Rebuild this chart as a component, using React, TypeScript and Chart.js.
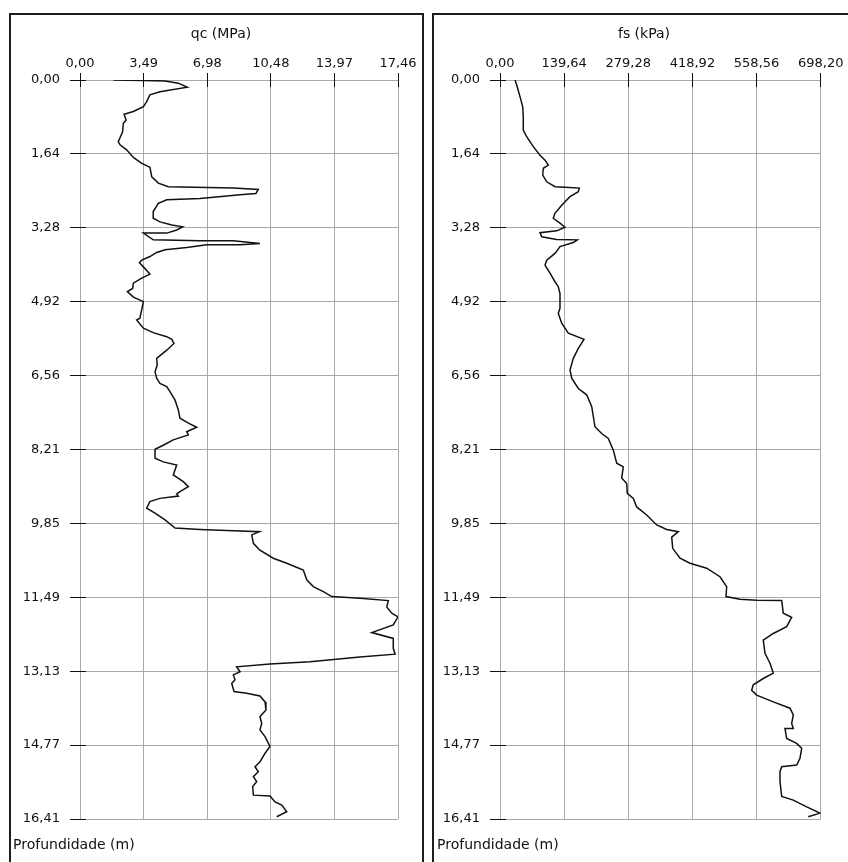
import React, { useEffect, useRef } from 'react';
import { Chart, registerables } from 'chart.js';

Chart.register(...registerables);

const FONT = "'DejaVu Sans', sans-serif";

// Depth axis (m)
const depthTicks = [0, 1.641, 3.282, 4.923, 6.564, 8.205, 9.846, 11.487, 13.128, 14.769, 16.41];
const depthTickLabels = ['0,00', '1,64', '3,28', '4,92', '6,56', '8,21', '9,85', '11,49', '13,13', '14,77', '16,41'];

// qc axis (MPa)
const qcTicks = [0, 3.492, 6.984, 10.476, 13.968, 17.46];
const qcTickLabels = ['0,00', '3,49', '6,98', '10,48', '13,97', '17,46'];

// fs axis (kPa)
const fsTicks = [0, 139.64, 279.28, 418.92, 558.56, 698.2];
const fsTickLabels = ['0,00', '139,64', '279,28', '418,92', '558,56', '698,20'];

// qc profile
const qcDepth = [
  0.00, 0.01, 0.02, 0.07, 0.16, 0.26, 0.33, 0.48, 0.59, 0.70,
  0.76, 0.89, 0.96, 1.15, 1.37, 1.44, 1.55, 1.72, 1.85, 1.94,
  2.15, 2.29, 2.37, 2.40, 2.43, 2.52, 2.55, 2.63, 2.66, 2.74,
  2.92, 3.07, 3.15, 3.22, 3.26, 3.33, 3.40, 3.40, 3.55, 3.57,
  3.57, 3.63, 3.66, 3.66, 3.72, 3.77, 3.83, 3.92, 4.00, 4.06,
  4.15, 4.31, 4.40, 4.51, 4.63, 4.70, 4.82, 4.92, 5.29, 5.33,
  5.51, 5.61, 5.70, 5.76, 5.85, 6.00, 6.18, 6.33, 6.48, 6.62,
  6.74, 6.81, 6.92, 7.11, 7.33, 7.51, 7.62, 7.71, 7.81, 7.88,
  7.99, 8.11, 8.20, 8.40, 8.48, 8.55, 8.77, 8.92, 9.03, 9.14,
  9.19, 9.24, 9.29, 9.36, 9.51, 9.62, 9.77, 9.95, 9.98, 10.01,
  10.03, 10.10, 10.29, 10.44, 10.62, 10.73, 10.88, 11.10, 11.25, 11.36,
  11.47, 11.51, 11.56, 11.70, 11.84, 11.92, 12.10, 12.27, 12.40, 12.62,
  12.75, 12.81, 12.92, 12.97, 13.03, 13.14, 13.21, 13.32, 13.40, 13.58,
  13.62, 13.68, 13.81, 13.99, 14.14, 14.29, 14.43, 14.58, 14.80, 14.95,
  15.14, 15.25, 15.36, 15.47, 15.58, 15.69, 15.88, 15.90, 16.03, 16.10,
  16.25, 16.36,
];
const qcValues = [
  1.83, 3.48, 4.67, 5.40, 5.89, 4.39, 3.84, 3.66, 3.48, 2.93,
  2.42, 2.53, 2.38, 2.34, 2.10, 2.20, 2.56, 2.93, 3.39, 3.84,
  3.94, 4.30, 4.85, 8.42, 9.79, 9.66, 8.79, 6.59, 4.76, 4.30,
  4.02, 4.02, 4.39, 5.04, 5.64, 5.31, 4.76, 3.48, 4.02, 6.59,
  8.42, 9.88, 8.79, 6.96, 5.86, 4.67, 4.21, 3.84, 3.39, 3.26,
  3.48, 3.84, 3.39, 2.93, 2.89, 2.60, 2.93, 3.48, 3.29, 3.11,
  3.48, 4.02, 4.76, 5.04, 5.16, 4.76, 4.21, 4.24, 4.12, 4.21,
  4.39, 4.76, 4.94, 5.22, 5.40, 5.49, 5.95, 6.41, 5.86, 5.95,
  5.12, 4.57, 4.12, 4.12, 4.57, 5.31, 5.12, 5.67, 5.95, 5.49,
  5.31, 5.40, 4.39, 3.84, 3.66, 4.12, 4.67, 5.22, 6.59, 8.42,
  9.85, 9.43, 9.52, 9.88, 10.61, 11.35, 12.26, 12.45, 12.81, 13.36,
  13.82, 15.37, 16.93, 16.84, 17.12, 17.46, 17.20, 16.02, 17.20, 17.20,
  17.30, 15.37, 12.63, 10.43, 8.60, 8.79, 8.42, 8.51, 8.33, 8.46,
  9.15, 9.88, 10.16, 10.21, 9.88, 9.98, 9.88, 10.16, 10.43, 10.16,
  9.88, 9.61, 9.79, 9.52, 9.70, 9.48, 9.52, 10.43, 10.71, 11.08,
  11.35, 10.80,
];

// fs profile
const fsDepth = [
  0.00, 0.11, 0.37, 0.59, 0.81, 1.11, 1.26, 1.48, 1.67, 1.78,
  1.89, 1.96, 2.11, 2.26, 2.37, 2.38, 2.40, 2.48, 2.59, 2.78,
  2.96, 3.07, 3.18, 3.27, 3.35, 3.39, 3.48, 3.54, 3.55, 3.61,
  3.70, 3.85, 4.00, 4.11, 4.29, 4.48, 4.59, 4.74, 5.07, 5.18,
  5.40, 5.62, 5.76, 5.96, 6.18, 6.44, 6.62, 6.85, 6.99, 7.25,
  7.70, 7.85, 7.96, 8.22, 8.51, 8.59, 8.84, 8.96, 9.18, 9.29,
  9.48, 9.66, 9.88, 9.98, 10.03, 10.15, 10.40, 10.62, 10.73, 10.84,
  11.03, 11.25, 11.47, 11.53, 11.55, 11.56, 11.84, 11.93, 12.14, 12.29,
  12.44, 12.73, 12.95, 13.17, 13.29, 13.43, 13.55, 13.66, 13.81, 13.95,
  14.10, 14.29, 14.40, 14.40, 14.62, 14.73, 14.84, 15.06, 15.21, 15.25,
  15.36, 15.58, 15.91, 15.99, 16.14, 16.28, 16.36,
];
const fsValues = [
  32.7, 36.4, 43.5, 49.4, 50.7, 50.7, 58.1, 72.5, 87.1, 98.0,
  105.1, 94.3, 93.0, 101.7, 119.7, 141.5, 172.6, 170.5, 152.4, 134.3,
  119.7, 116.0, 130.6, 141.5, 123.4, 87.1, 90.8, 123.4, 168.3, 159.6,
  130.6, 119.7, 101.7, 98.0, 108.9, 119.7, 126.9, 130.6, 130.6, 126.9,
  134.3, 148.7, 182.9, 170.5, 159.6, 152.4, 156.1, 170.5, 188.7, 199.6,
  206.8, 221.4, 235.8, 246.7, 254.1, 268.4, 264.9, 275.8, 277.1, 290.2,
  297.6, 319.4, 341.1, 362.9, 388.2, 373.8, 376.0, 391.9, 413.6, 450.0,
  478.9, 493.5, 492.0, 522.5, 558.8, 613.3, 616.7, 635.0, 624.1, 595.0,
  573.2, 576.9, 587.8, 595.0, 573.2, 551.4, 547.9, 558.8, 595.0, 631.3,
  638.5, 635.0, 638.5, 620.4, 624.1, 645.9, 656.8, 653.1, 645.9, 613.3,
  609.6, 609.6, 613.3, 638.5, 667.7, 696.6, 671.2,
];

const GRID = '#a9a9a9';
const INK = '#111111';

function alignPx(p: number) {
  return Math.round(p - 0.5) + 0.5;
}

const panelDecor = {
  id: 'panelDecor',
  beforeDatasetsDraw(chart: any) {
    const { ctx, chartArea } = chart;
    const xs = chart.scales.x;
    const ys = chart.scales.y;
    ctx.save();
    ctx.strokeStyle = INK;
    ctx.lineWidth = 1;
    ctx.beginPath();
    xs.ticks.forEach((t: any) => {
      const px = alignPx(xs.getPixelForValue(t.value));
      ctx.moveTo(px, chartArea.top);
      ctx.lineTo(px, chartArea.top + 7);
    });
    ys.ticks.forEach((t: any) => {
      const py = alignPx(ys.getPixelForValue(t.value));
      ctx.moveTo(chartArea.left, py);
      ctx.lineTo(chartArea.left + 6, py);
    });
    ctx.stroke();
    ctx.restore();
  },
  afterDraw(chart: any, _args: any, opts: any) {
    const { ctx } = chart;
    ctx.save();
    ctx.fillStyle = INK;
    ctx.font = `14px ${FONT}`;
    ctx.textBaseline = 'middle';
    ctx.textAlign = 'center';
    ctx.fillText(opts.title, opts.titleX, opts.titleY);
    ctx.textAlign = 'left';
    ctx.fillText(opts.footer, opts.footerX, opts.footerY);
    ctx.restore();
  },
};

interface PanelProps {
  left: number;
  top: number;
  width: number;
  height: number;
  yWidth: number;
  xHeight: number;
  padRight: number;
  padBottom: number;
  xMax: number;
  xTicks: number[];
  xTickLabels: string[];
  depths: number[];
  values: number[];
  title: string;
  titleX: number;
  footerX: number;
}

function Panel(p: PanelProps) {
  const ref = useRef<HTMLCanvasElement | null>(null);
  useEffect(() => {
    if (!ref.current) return;
    const chart = new Chart(ref.current, {
      type: 'scatter',
      data: {
        datasets: [
          {
            data: p.depths.map((d, i) => ({ x: p.values[i], y: d })),
            showLine: true,
            borderColor: INK,
            borderWidth: 1.5,
            pointRadius: 0,
            pointHoverRadius: 0,
            tension: 0,
            fill: false,
          },
        ],
      },
      options: {
        responsive: false,
        animation: false,
        events: [],
        layout: { padding: { left: 0, top: 0, right: p.padRight, bottom: p.padBottom } },
        plugins: {
          legend: { display: false },
          tooltip: { enabled: false },
          title: { display: false },
          panelDecor: {
            title: p.title,
            titleX: p.titleX,
            titleY: 19,
            footer: 'Profundidade (m)',
            footerX: p.footerX,
            footerY: 830,
          },
        } as any,
        scales: {
          x: {
            type: 'linear',
            position: 'top',
            min: 0,
            max: p.xMax,
            afterBuildTicks: (s: any) => {
              s.ticks = p.xTicks.map((v) => ({ value: v }));
            },
            afterFit: (s: any) => {
              s.height = p.xHeight;
            },
            ticks: {
              callback: (_v: any, i: number) => p.xTickLabels[i],
              padding: 2,
              autoSkip: false,
              minRotation: 0,
              maxRotation: 0,
              color: INK,
              font: { family: FONT, size: 13 },
            },
            grid: { color: GRID, tickColor: INK, tickLength: 7, lineWidth: 1 },
            border: { display: false },
          },
          y: {
            type: 'linear',
            reverse: true,
            min: 0,
            max: 16.41,
            afterBuildTicks: (s: any) => {
              s.ticks = depthTicks.map((v) => ({ value: v }));
            },
            afterFit: (s: any) => {
              s.width = p.yWidth;
            },
            ticks: {
              callback: (_v: any, i: number) => depthTickLabels[i],
              padding: 10,
              autoSkip: false,
              color: INK,
              font: { family: FONT, size: 13 },
            },
            grid: { color: GRID, tickColor: INK, tickLength: 10, lineWidth: 1 },
            border: { display: false },
          },
        },
      } as any,
      plugins: [panelDecor as any],
    });
    return () => chart.destroy();
  }, []);
  return (
    <canvas
      ref={ref}
      width={p.width}
      height={p.height}
      style={{ position: 'absolute', left: p.left, top: p.top, width: p.width, height: p.height }}
    />
  );
}

export default function App() {
  const frame = {
    position: 'absolute' as const,
    top: 13,
    height: 860,
    border: '2px solid #1e1e1e',
    boxSizing: 'border-box' as const,
    background: '#fff',
  };
  return (
    <div
      style={{
        position: 'absolute',
        left: 0,
        top: 0,
        width: 848,
        height: 862,
        background: '#fff',
        overflow: 'hidden',
      }}
    >
      <div style={{ ...frame, left: 9, width: 415 }} />
      <div style={{ ...frame, left: 432, width: 430 }} />
      <Panel
        left={11}
        top={15}
        width={411}
        height={847}
        yWidth={69}
        xHeight={65}
        padRight={24}
        padBottom={43}
        xMax={17.46}
        xTicks={qcTicks}
        xTickLabels={qcTickLabels}
        depths={qcDepth}
        values={qcValues}
        title="qc (MPa)"
        titleX={210}
        footerX={2}
      />
      <Panel
        left={434}
        top={15}
        width={414}
        height={847}
        yWidth={66}
        xHeight={65}
        padRight={27.3}
        padBottom={43}
        xMax={698.2}
        xTicks={fsTicks}
        xTickLabels={fsTickLabels}
        depths={fsDepth}
        values={fsValues}
        title="fs (kPa)"
        titleX={210}
        footerX={3}
      />
    </div>
  );
}
